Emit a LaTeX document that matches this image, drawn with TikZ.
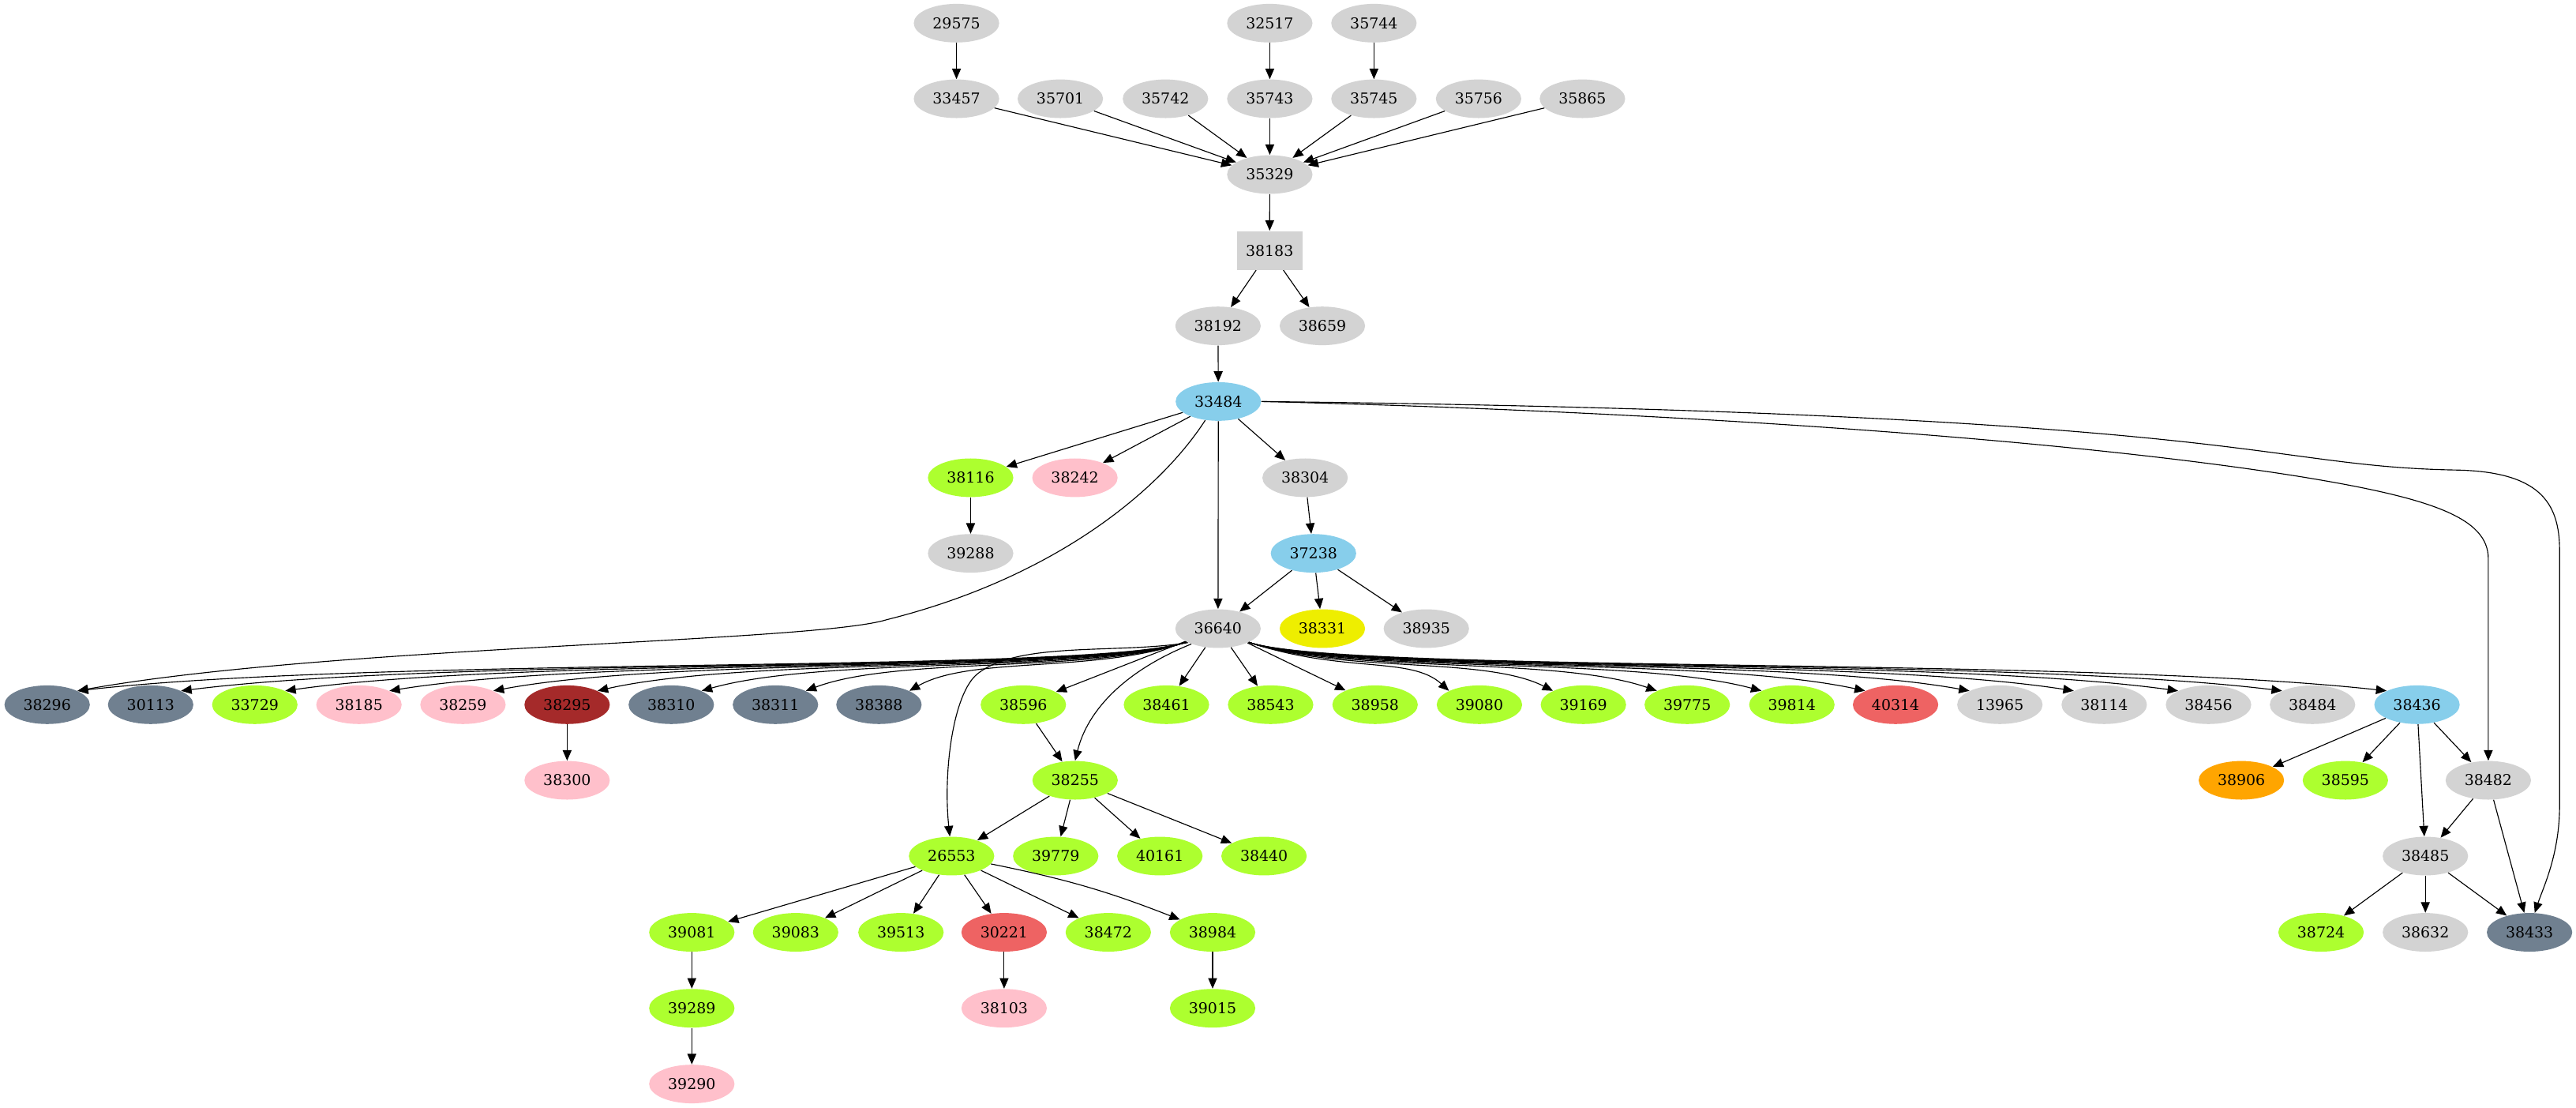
\documentclass[tikz,border=0pt]{standalone}
\usepackage{fontspec}
\setmainfont{DejaVu Serif}
\usetikzlibrary{shapes.geometric}
\usetikzlibrary{arrows.meta}
\definecolor{lgray}{HTML}{D3D3D3}
\definecolor{skyb}{HTML}{87CEEB}
\definecolor{grnyel}{HTML}{ADFF2F}
\definecolor{pnk}{HTML}{FFC0CB}
\definecolor{slate}{HTML}{708090}
\definecolor{brwn}{HTML}{A52A2A}
\definecolor{ylw}{HTML}{EEEE00}
\definecolor{ired}{HTML}{EE6363}
\definecolor{orng}{HTML}{FFA500}

\begin{document}
\begin{tikzpicture}
[
x=1pt, y=-1pt,
gn/.style={ellipse, minimum width=52pt, minimum height=23.5pt, inner sep=0pt, font=\fontsize{9.1}{11}\selectfont},
n-gray/.style={gn, fill=lgray},
n-blue/.style={gn, fill=skyb},
n-green/.style={gn, fill=grnyel},
n-pink/.style={gn, fill=pnk},
n-slate/.style={gn, fill=slate},
n-brown/.style={gn, fill=brwn},
n-yellow/.style={gn, fill=ylw},
n-red/.style={gn, fill=ired},
n-orange/.style={gn, fill=orng},
sq-gray/.style={rectangle, fill=lgray, minimum width=40pt, minimum height=23.6pt, inner sep=0pt, font=\fontsize{9.1}{11}\selectfont},
arr/.style={-{Triangle[length=6.4pt, width=5.4pt]}, line width=0.55pt},
]
\useasboundingbox (0,0) rectangle (1568,674);

\node (n29575) [n-gray] at (582.2,14.1) {29575};
\node (n32517) [n-gray] at (772.9,14.1) {32517};
\node (n35744) [n-gray] at (836.3,14.1) {35744};

\node (n33457) [n-gray] at (582.2,60.1) {33457};
\node (n35701) [n-gray] at (645.4,60.1) {35701};
\node (n35742) [n-gray] at (709.4,60.1) {35742};
\node (n35743) [n-gray] at (772.9,60.1) {35743};
\node (n35745) [n-gray] at (836.3,60.1) {35745};
\node (n35756) [n-gray] at (900.0,60.1) {35756};
\node (n35865) [n-gray] at (963.2,60.1) {35865};

\node (n35329) [n-gray] at (772.9,106.2) {35329};
\node (n38183) [sq-gray] at (772.8,152.4) {38183};
\node (n38192) [n-gray] at (741.4,198.3) {38192};
\node (n38659) [n-gray] at (804.9,198.3) {38659};
\node (n33484) [n-blue] at (741.6,244.3) {33484};

\node (n38116) [n-green] at (590.8,290.7) {38116};
\node (n38242) [n-pink] at (654.3,290.7) {38242};
\node (n38304) [n-gray] at (794.4,290.7) {38304};
\node (n39288) [n-gray] at (590.8,336.7) {39288};
\node (n37238) [n-blue] at (799.5,336.7) {37238};

\node (n36640) [n-gray] at (741.4,382.5) {36640};
\node (n38331) [n-yellow] at (804.9,382.5) {38331};
\node (n38935) [n-gray] at (868.2,382.5) {38935};

\node (n38296) [n-slate] at (28.7,428.8) {38296};
\node (n30113) [n-slate] at (91.7,428.8) {30113};
\node (n33729) [n-green] at (155.1,428.8) {33729};
\node (n38185) [n-pink] at (218.5,428.8) {38185};
\node (n38259) [n-pink] at (281.8,428.8) {38259};
\node (n38295) [n-brown] at (345.2,428.8) {38295};
\node (n38310) [n-slate] at (408.6,428.8) {38310};
\node (n38311) [n-slate] at (472.0,428.8) {38311};
\node (n38388) [n-slate] at (535.0,428.8) {38388};
\node (n38596) [n-green] at (622.9,428.8) {38596};
\node (n38461) [n-green] at (710.0,428.8) {38461};
\node (n38543) [n-green] at (773.4,428.8) {38543};
\node (n38958) [n-green] at (837.0,428.8) {38958};
\node (n39080) [n-green] at (900.5,428.8) {39080};
\node (n39169) [n-green] at (963.8,428.8) {39169};
\node (n39775) [n-green] at (1027.0,428.8) {39775};
\node (n39814) [n-green] at (1090.7,428.8) {39814};
\node (n40314) [n-red] at (1153.8,428.8) {40314};
\node (n13965) [n-gray] at (1217.3,428.8) {13965};
\node (n38114) [n-gray] at (1280.8,428.8) {38114};
\node (n38456) [n-gray] at (1344.3,428.8) {38456};
\node (n38484) [n-gray] at (1407.6,428.8) {38484};
\node (n38436) [n-blue] at (1471.2,428.8) {38436};

\node (n38300) [n-pink] at (345.2,474.8) {38300};
\node (n38255) [n-green] at (654.4,474.8) {38255};
\node (n38906) [n-orange] at (1364.3,474.8) {38906};
\node (n38595) [n-green] at (1427.6,474.8) {38595};
\node (n38482) [n-gray] at (1514.6,474.8) {38482};

\node (n26553) [n-green] at (579.2,520.9) {26553};
\node (n39779) [n-green] at (642.6,520.9) {39779};
\node (n40161) [n-green] at (706.0,520.9) {40161};
\node (n38440) [n-green] at (769.4,520.9) {38440};
\node (n38485) [n-gray] at (1476.3,520.9) {38485};

\node (n39081) [n-green] at (421.1,567.3) {39081};
\node (n39083) [n-green] at (484.3,567.3) {39083};
\node (n39513) [n-green] at (548.4,567.3) {39513};
\node (n30221) [n-red] at (611.2,567.3) {30221};
\node (n38472) [n-green] at (674.6,567.3) {38472};
\node (n38984) [n-green] at (738.1,567.3) {38984};
\node (n38724) [n-green] at (1412.8,567.3) {38724};
\node (n38632) [n-gray] at (1476.3,567.3) {38632};
\node (n38433) [n-slate] at (1539.7,567.3) {38433};

\node (n39289) [n-green] at (421.1,613.5) {39289};
\node (n38103) [n-pink] at (611.2,613.5) {38103};
\node (n39015) [n-green] at (738.1,613.5) {39015};
\node (n39290) [n-pink] at (421.1,659.6) {39290};

\path [arr] (n29575) edge (n33457) (n32517) edge (n35743) (n35744) edge (n35745);
\path [arr] (n33457) edge (n35329) (n35701) edge (n35329) (n35742) edge (n35329)
            (n35743) edge (n35329) (n35745) edge (n35329) (n35756) edge (n35329)
            (n35865) edge (n35329);
\path [arr] (n35329) edge (n38183) (n38183) edge (n38192) (n38183) edge (n38659)
            (n38192) edge (n33484);
\path [arr] (n33484) edge (n38116) (n33484) edge (n38242) (n33484) edge (n38304)
            (n33484) edge (n36640);
\path [arr] (n38116) edge (n39288) (n38304) edge (n37238);
\path [arr] (n37238) edge (n36640) (n37238) edge (n38331) (n37238) edge (n38935);
\path [arr] (n36640) edge (n38596) (n36640) edge (n38461) (n36640) edge (n38543)
            (n36640) edge (n38958);
\path [arr] (n38295) edge (n38300) (n38596) edge (n38255);
\path [arr] (n38255) edge (n26553) (n38255) edge (n39779) (n38255) edge (n40161)
            (n38255) edge (n38440);
\path [arr] (n26553) edge (n39081) (n26553) edge (n39083) (n26553) edge (n39513)
            (n26553) edge (n30221) (n26553) edge (n38472) (n26553) edge [bend left=5] (n38984);
\path [arr] (n39081) edge (n39289) (n39289) edge (n39290) (n30221) edge (n38103)
            (n38984) edge (n39015);
\path [arr] (n38436) edge (n38906) (n38436) edge (n38595) (n38436) edge (n38482)
            (n38436) edge (n38485);
\path [arr] (n38482) edge (n38485) (n38482) edge (n38433);
\path [arr] (n38485) edge (n38724) (n38485) edge (n38632) (n38485) edge (n38433);

% fan of 36640
\foreach \t/\x in {38296/28.7, 30113/91.7, 33729/155.1, 38185/218.5, 38259/281.8,
                   38295/345.2, 38310/408.6, 38311/472.0, 38388/535.0}
  \draw [arr] (n36640.203) .. controls (665,410) and ({0.7*\x+216.6},399) .. (n\t.north east);
\foreach \t/\x in {39080/900.5, 39169/963.8, 39775/1027.0, 39814/1090.7, 40314/1153.8,
                   13965/1217.3, 38114/1280.8, 38456/1344.3, 38484/1407.6, 38436/1471.2}
  \draw [arr] (n36640.336) .. controls (818,410) and ({0.7*\x+228.3},399) .. (n\t.north west);
\draw [arr] (n36640.205) .. controls (680,398) and (620,390) .. (595,410)
            .. controls (580,422) and (574,470) .. (n26553.95);
\draw [arr] (n36640.210) .. controls (685,408) and (662,432) .. (n38255.north);

% long ones from 33484
\draw [arr] (n33484.235) .. controls (705,300) and (640,352) .. (540,377)
            .. controls (495,391) and (200,393) .. (n38296.north east);
\draw [arr] (n33484.east) .. controls (1000,250) and (1250,266) .. (1400,290)
            .. controls (1480,303) and (1514.6,315) .. (1514.6,340) -- (n38482.north);
\draw [arr] (n33484.east) .. controls (1000,247) and (1200,254) .. (1340,270)
            .. controls (1410,278) and (1440,285) .. (1495,286)
            .. controls (1545,287) and (1558,305) .. (1558,335) -- (1558,490)
            .. controls (1558,520) and (1548,540) .. (n38433.75);
\end{tikzpicture}
\end{document}
